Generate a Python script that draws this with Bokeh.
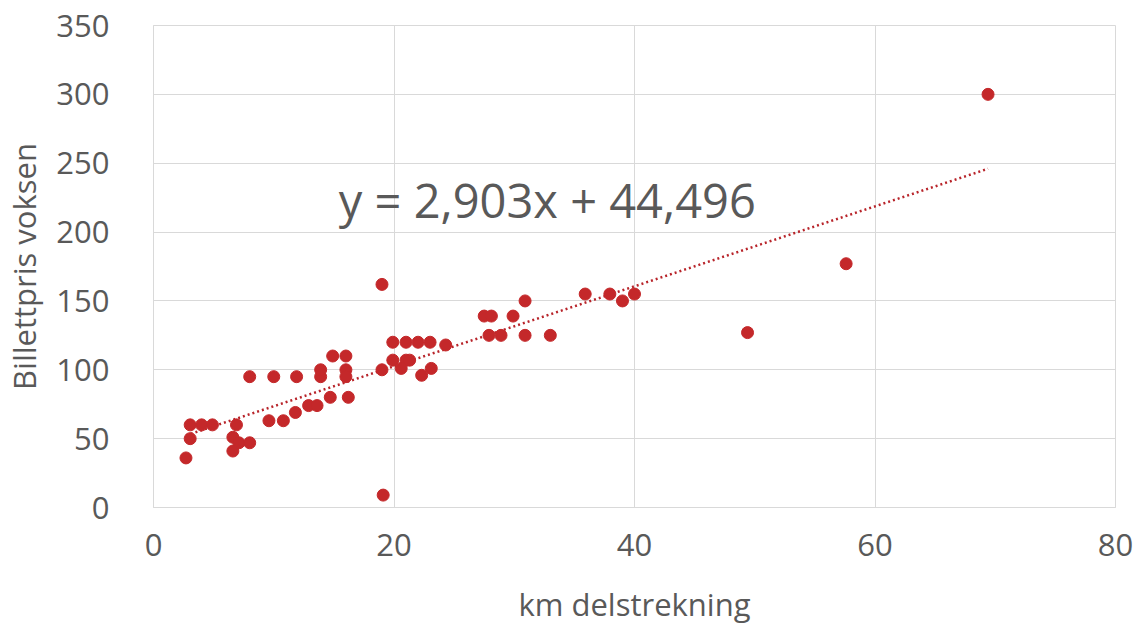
from bokeh.plotting import figure
from bokeh.models import Range1d, FixedTicker, ColumnDataSource, Label
from bokeh.embed import file_html
from bokeh.resources import INLINE

# Data
km = [2.7, 3.05, 3.05, 4.0, 4.9, 6.9, 6.6, 7.1, 8.0, 6.6,
      8.0, 10.0, 11.9, 9.6, 10.8, 11.8, 12.9, 13.6, 13.9, 13.9,
      14.7, 14.9, 16.0, 16.0, 16.0, 16.2, 19.0, 19.0, 19.1, 19.9,
      21.0, 22.0, 23.0, 24.3, 19.9, 21.0, 21.3, 20.6, 22.3, 23.1,
      27.5, 28.1, 29.9, 30.9, 27.9, 28.9, 30.9, 33.0, 35.9, 37.95,
      39.0, 40.0, 49.4, 57.6, 69.4]
pris = [36, 50, 60, 60, 60, 60, 51, 47, 47, 41,
        95, 95, 95, 63, 63, 69, 74, 74, 95, 100,
        80, 110, 110, 100, 95, 80, 162, 100, 9, 120,
        120, 120, 120, 118, 107, 107, 107, 101, 96, 101,
        139, 139, 139, 150, 125, 125, 125, 125, 155, 155,
        150, 155, 127, 177, 300]

slope = 2.903
intercept = 44.496
equation_text = "y = 2,903x + 44,496"

x_ticks = [0, 20, 40, 60, 80]
y_ticks = [0, 50, 100, 150, 200, 250, 300, 350]

x_title = "km delstrekning"
y_title = "Billettpris voksen"

TEXT = "#595959"
GRID = "#D9D9D9"
RED = "#C4282A"
FONT = "Open Sans"

p = figure(width=1135, height=628, output_backend="svg", toolbar_location=None,
           x_range=Range1d(0, 80), y_range=Range1d(0, 350),
           min_border_left=146, min_border_right=20, min_border_top=25,
           min_border_bottom=121)

p.outline_line_color = GRID
p.background_fill_color = "white"
p.border_fill_color = "white"

for ax in (p.xaxis[0], p.yaxis[0]):
    ax.axis_line_color = GRID
    ax.major_tick_line_color = None
    ax.minor_tick_line_color = None
    ax.major_label_text_color = TEXT
    ax.major_label_text_font = FONT
    ax.major_label_text_font_size = "31px"
    ax.axis_label_text_color = TEXT
    ax.axis_label_text_font = FONT
    ax.axis_label_text_font_size = "31px"
    ax.axis_label_text_font_style = "normal"

p.xaxis.ticker = FixedTicker(ticks=x_ticks)
p.yaxis.ticker = FixedTicker(ticks=y_ticks)
p.xaxis.axis_label = x_title
p.yaxis.axis_label = y_title
p.xaxis.major_label_standoff = 20
p.yaxis.major_label_standoff = 38
p.xaxis.axis_label_standoff = 24
p.yaxis.axis_label_standoff = 8

p.xgrid.ticker = FixedTicker(ticks=x_ticks)
p.ygrid.ticker = FixedTicker(ticks=y_ticks)
p.xgrid.grid_line_color = GRID
p.ygrid.grid_line_color = GRID

# Trendline from given equation over data range
tx = [min(km), max(km)]
ty = [slope * v + intercept for v in tx]
p.line(tx, ty, line_color="#B8242A", line_width=2.5, line_dash="2 3")

src = ColumnDataSource(dict(x=km, y=pris))
p.scatter("x", "y", source=src, size=12, fill_color=RED, line_color=RED)

p.add_layout(Label(x=32.75, y=223, text=equation_text, text_align="center",
                   text_baseline="middle", text_color=TEXT, text_font=FONT,
                   text_font_size="47px"))

open("out.html", "w").write(file_html(p, INLINE))
